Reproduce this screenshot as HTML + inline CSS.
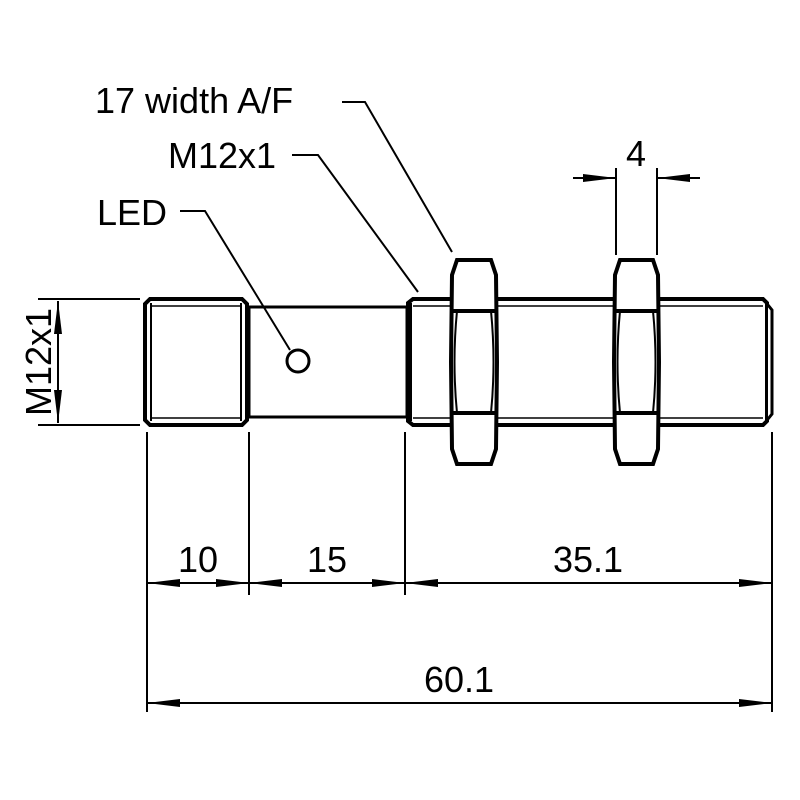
<!DOCTYPE html>
<html><head><style>body{margin:0;background:#fff}svg{display:block}</style></head><body>
<svg width="800" height="800" viewBox="0 0 800 800" xmlns="http://www.w3.org/2000/svg" font-family="Liberation Sans, sans-serif">
<defs>
<marker id="a" viewBox="0 0 33 8" refX="33" refY="4" markerWidth="33" markerHeight="8" markerUnits="userSpaceOnUse" orient="auto-start-reverse"><path d="M0,0 L33,4 L0,8Z" fill="#000"/></marker>
</defs>
<g fill="#fff" stroke="#000">
<!-- left thread -->
<path d="M150,299 H242 L247,304 V420 L242,425 H150 L145,420 V304Z" stroke-width="4"/>
<line x1="151" y1="303" x2="151" y2="421" stroke-width="2"/>
<line x1="150" y1="306" x2="242" y2="306" stroke-width="1.5"/>
<line x1="150" y1="418" x2="242" y2="418" stroke-width="1.5"/>
<line x1="241" y1="303" x2="241" y2="421" stroke-width="2"/>
<!-- middle body -->
<rect x="249" y="307" width="158" height="110" stroke-width="3"/>
<!-- right thread -->
<path d="M413,299 H763 L767,303 V421 L763,425 H413 L408,421 V303Z" stroke-width="4"/>
<line x1="411" y1="303" x2="411" y2="421" stroke-width="2"/>
<line x1="413" y1="306" x2="763" y2="306" stroke-width="1.5"/>
<line x1="413" y1="418" x2="763" y2="418" stroke-width="1.5"/>
<path d="M768,305 L772,310 V414 L768,419" stroke-width="3"/>
<!-- nuts -->
<path d="M457,260 H491 L496,275 L497,362 L496,449 L491,464 H457 L452,449 L451,362 L452,275Z" stroke-width="4"/>
<line x1="453" y1="311" x2="495" y2="311" stroke-width="4"/>
<line x1="453" y1="413" x2="495" y2="413" stroke-width="4"/>
<path d="M457,311 Q452,362 457,413 M491,311 Q496,362 491,413" fill="none" stroke-width="2"/>
<path d="M620,260 H653 L658,275 L659,362 L658,449 L653,464 H620 L615,449 L614,362 L615,275Z" stroke-width="4"/>
<line x1="616" y1="311" x2="657" y2="311" stroke-width="4"/>
<line x1="616" y1="413" x2="657" y2="413" stroke-width="4"/>
<path d="M620,311 Q615,362 620,413 M653,311 Q658,362 653,413" fill="none" stroke-width="2"/>
<circle cx="298" cy="361" r="11" stroke-width="3"/>
</g>
<g stroke="#000" stroke-width="2" fill="none">
<!-- leaders -->
<polyline points="342,102 365,102 452,252"/>
<polyline points="292,155 318,155 418,292"/>
<polyline points="180,211 205,211 290,350"/>
<!-- M12x1 vertical -->
<line x1="38" y1="299" x2="140" y2="299"/>
<line x1="38" y1="425" x2="140" y2="425"/>
<line x1="58" y1="301" x2="58" y2="423" marker-start="url(#a)" marker-end="url(#a)"/>
<!-- dimension extension lines -->
<line x1="147" y1="432" x2="147" y2="712"/>
<line x1="249" y1="432" x2="249" y2="595"/>
<line x1="405" y1="432" x2="405" y2="595"/>
<line x1="772" y1="432" x2="772" y2="712"/>
<line x1="147" y1="583" x2="249" y2="583" marker-start="url(#a)" marker-end="url(#a)"/>
<line x1="249" y1="583" x2="405" y2="583" marker-start="url(#a)" marker-end="url(#a)"/>
<line x1="405" y1="583" x2="772" y2="583" marker-start="url(#a)" marker-end="url(#a)"/>
<line x1="147" y1="703" x2="772" y2="703" marker-start="url(#a)" marker-end="url(#a)"/>
<!-- 4 dim -->
<line x1="616" y1="168" x2="616" y2="255"/>
<line x1="657" y1="168" x2="657" y2="255"/>
<line x1="573" y1="178" x2="616" y2="178" marker-end="url(#a)"/>
<line x1="700" y1="178" x2="657" y2="178" marker-end="url(#a)"/>
</g>
<g font-size="36" fill="#000">
<text x="95" y="113">17 width A/F</text>
<text x="168" y="168">M12x1</text>
<text x="97" y="225">LED</text>
<text x="636" y="166" text-anchor="middle">4</text>
<text x="198" y="572" text-anchor="middle">10</text>
<text x="327" y="572" text-anchor="middle">15</text>
<text x="588" y="572" text-anchor="middle">35.1</text>
<text x="459" y="692" text-anchor="middle">60.1</text>
<text transform="translate(51,362) rotate(-90)" text-anchor="middle">M12x1</text>
</g>
</svg>
</body></html>
